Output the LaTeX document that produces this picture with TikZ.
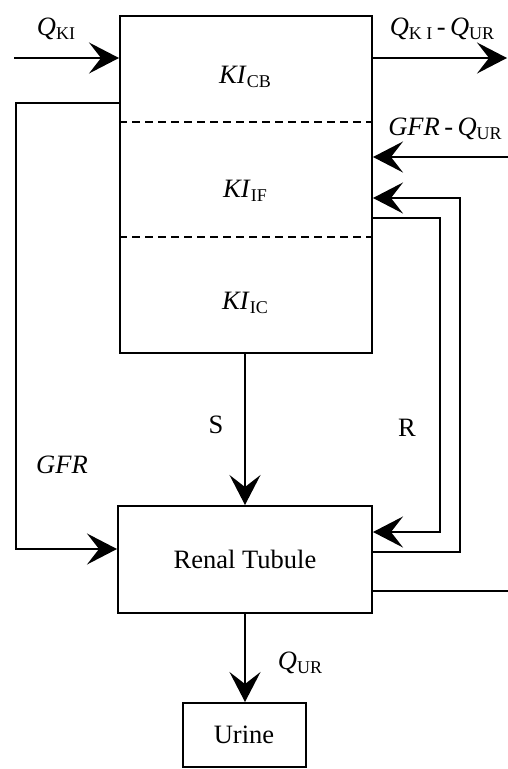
\documentclass[tikz,border=0pt]{standalone}
\usepackage{fontspec}
\setmainfont{Liberation Serif}
\usetikzlibrary{arrows.meta}
\newcommand{\lowsub}[1]{\raisebox{-4pt}{\fontsize{18}{18}\selectfont #1}}
\begin{document}
\begin{tikzpicture}[x=1pt,y=-1pt,
  every node/.style={font=\fontsize{26.5}{30}\selectfont},
  box/.style={draw, line width=2pt, rectangle, inner sep=0pt},
  conn/.style={line width=1.6pt},
  arr/.style={conn, -{Stealth[length=30pt,width=31pt,inset=12pt]}},
  lbl/.style={inner sep=0pt}]
\useasboundingbox (0,0) rectangle (508,769);
% boxes
\node[box, minimum width=252pt, minimum height=337pt] (KI) at (246,184.5) {};
\node[box, minimum width=254pt, minimum height=107pt] (RT) at (245,559.5) {Renal Tubule};
\node[box, minimum width=123pt, minimum height=64pt] (UR) at (244,735) {Urine};
% compartment dividers
\draw[line width=1.6pt, dash pattern=on 8pt off 5pt] (KI.west |- 0,122) -- (KI.east |- 0,122);
\draw[line width=1.6pt, dash pattern=on 8pt off 5pt] (KI.west |- 0,237) -- (KI.east |- 0,237);
% compartment labels
\node[lbl] (cb) at (245,77) {\textit{KI}\lowsub{CB}};
\node[lbl] (if) at (245,191) {\textit{KI}\lowsub{IF}};
\node[lbl] (ic) at (245,303) {\textit{KI}\lowsub{IC}};
% coordinates
\coordinate (qin) at (14,58);
\coordinate (qout) at (507,58);
\coordinate (gin) at (508,157);
\coordinate (ur) at (508,591);
\coordinate (rA) at (440,218);
\coordinate (rB) at (440,532);
\coordinate (fA) at (460,552);
\coordinate (fB) at (460,198);
\coordinate (gA) at (16,103);
\coordinate (gB) at (16,549);
% connectors
\draw[arr] (qin) -- (qin -| KI.west);
\draw[arr] (qin -| KI.east) -- (qout);
\draw[arr] (gin) -- (gin -| KI.east);
\draw[arr] (rA -| KI.east) -- (rA) -- (rB) -- (rB -| RT.east);
\draw[arr] (fA -| RT.east) -- (fA) -- (fB) -- (fB -| KI.east);
\draw[conn] (ur -| RT.east) -- (ur);
\draw[arr] (gA -| KI.west) -- (gA) -- (gB) -- (gB -| RT.west);
\draw[arr] (KI.south -| RT.north) -- (RT.north);
\draw[arr] (RT.south) -- (RT.south |- UR.north);
% labels
\node[lbl] (lqin) at (56,29) {\textit{Q}\lowsub{KI}};
\node[lbl] (lqout) at (442,29) {\textit{Q}\lowsub{K I}\,-\,\textit{Q}\lowsub{UR}};
\node[lbl] (lgin) at (445,129) {\textit{GFR}\,-\,\textit{Q}\lowsub{UR}};
\node[lbl] (ls) at (216,425) {S};
\node[lbl] (lr) at (407,428) {R};
\node[lbl] (lgfr) at (62,465) {\textit{GFR}};
\node[lbl] (lqur) at (300,663) {\textit{Q}\lowsub{UR}};
\end{tikzpicture}
\end{document}
